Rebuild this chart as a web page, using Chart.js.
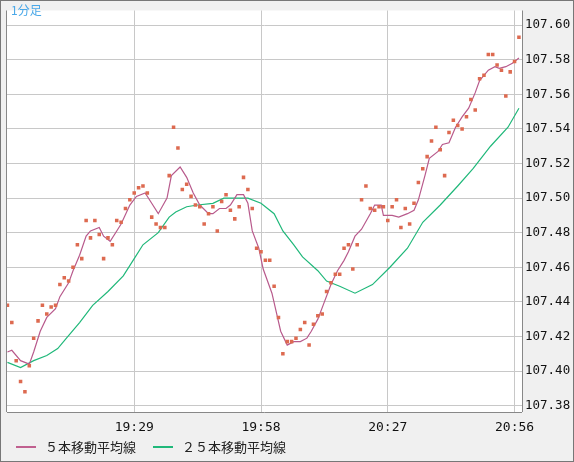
<!DOCTYPE html>
<html><head><meta charset="utf-8">
<script src="https://cdn.jsdelivr.net/npm/chart.js@4/dist/chart.umd.min.js"></script>
<style>
body{margin:0;background:#f0f0f0;}
#wrap{position:relative;width:574px;height:462px;}
#c{position:absolute;left:0;top:0;}
.lbl{position:absolute;font-family:"Noto Sans CJK JP";font-size:13px;}
#tf{left:11px;top:1px;color:#4aa8e8;font-size:12px;}
.leg{top:437px;color:#222;}
.sw{position:absolute;top:446px;width:20px;height:2px;}
#frame{position:absolute;left:0;top:0;width:572px;height:460px;border:1px solid #777;pointer-events:none;}
</style></head>
<body>
<div id="wrap">
<canvas id="c" width="574" height="462"></canvas>
<div class="lbl" id="tf">1分足</div>
<div class="sw" style="left:16px;background:#c0608f"></div>
<div class="lbl leg" style="left:45px">５本移動平均線</div>
<div class="sw" style="left:153px;background:#20b87a"></div>
<div class="lbl leg" style="left:182px">２５本移動平均線</div>
<div id="frame"></div>
</div>
<script>
// minutes from 19:00, one close per minute
let closes = [107.438,107.428,107.406,107.394,107.388,107.403,107.419,107.429,107.438,107.433,
107.437,107.438,107.450,107.454,107.452,107.460,107.473,107.465,107.487,107.477,
107.487,107.479,107.465,107.477,107.473,107.487,107.486,107.494,107.499,107.503,
107.506,107.507,107.503,107.489,107.485,107.483,107.483,107.513,107.541,107.529,
107.505,107.508,107.501,107.496,107.495,107.485,107.491,107.495,107.481,107.498,
107.502,107.493,107.488,107.495,107.512,107.505,107.494,107.471,107.469,107.464,
107.464,107.449,107.431,107.410,107.417,107.417,107.419,107.424,107.428,107.415,
107.427,107.432,107.433,107.446,107.451,107.456,107.456,107.471,107.473,107.459,
107.473,107.499,107.507,107.494,107.493,107.495,107.495,107.487,107.495,107.499,
107.483,107.494,107.485,107.497,107.509,107.517,107.524,107.533,107.541,107.528,
107.513,107.538,107.545,107.542,107.540,107.547,107.557,107.551,107.569,107.571,
107.583,107.583,107.577,107.574,107.559,107.573,107.579,107.593];

let ma5Min = [0,1,3,5,6,7.5,9,11,12,14,15,16.5,18,19,21,22,23.5,25,26,28,29.5,31.5,33,34.5,36.5,37.5,39.5,41,42.5,44,46,47,48.5,50,51,52.5,54,55,56,57.5,58.5,60.5,61.5,62.5,64,65.5,67,68.5,69.5,71,72.5,74,75.5,77,78,79.5,81,83,84,85.5,86,88,89.5,91.5,93,94,95.5,96.5,98.5,99.5,101,102.5,104,105.5,107,108,110,111.5,112.5,114,115.5,117];
let ma5Val = [107.411,107.412,107.406,107.404,107.411,107.423,107.431,107.436,107.443,107.451,107.458,107.467,107.478,107.481,107.483,107.478,107.475,107.481,107.485,107.496,107.501,107.503,107.497,107.491,107.500,107.513,107.518,107.512,107.503,107.496,107.491,107.491,107.494,107.494,107.496,107.502,107.502,107.497,107.481,107.471,107.459,107.445,107.434,107.423,107.415,107.417,107.417,107.419,107.423,107.430,107.440,107.450,107.458,107.464,107.469,107.478,107.482,107.491,107.496,107.496,107.490,107.490,107.489,107.491,107.493,107.499,107.513,107.523,107.527,107.531,107.532,107.541,107.547,107.552,107.561,107.568,107.574,107.576,107.575,107.576,107.578,107.581];

let ma25Min = [0,3,6,9,11.5,13.5,16.5,19.5,23,26.5,29,31,34.5,37,38.5,41,43.5,47,49.5,55,58,61,63,65.5,67.5,71,73,76,79.5,83.5,87.5,91.5,95,99,103,106.5,110.5,114.5,117];
let ma25Val = [107.405,107.402,107.406,107.409,107.413,107.419,107.428,107.438,107.446,107.455,107.465,107.473,107.480,107.489,107.492,107.495,107.496,107.497,107.500,107.500,107.497,107.491,107.481,107.473,107.466,107.458,107.452,107.449,107.445,107.450,107.460,107.471,107.486,107.496,107.507,107.517,107.530,107.541,107.552];

let tickMin = [29,58,87,116];
let tickLabels = ['19:29','19:58','20:27','20:56'];

const bg = {
  id:'bg',
  beforeDraw(chart){
    const {ctx, chartArea:a} = chart;
    ctx.save();
    ctx.fillStyle='#f0f0f0'; ctx.fillRect(0,0,chart.width,chart.height);
    ctx.fillStyle='#fff'; ctx.fillRect(a.left,a.top,a.right-a.left,a.bottom-a.top);
    ctx.strokeStyle='#888'; ctx.lineWidth=1;
    ctx.beginPath(); ctx.moveTo(a.left-0.5,a.top); ctx.lineTo(a.left-0.5,a.bottom);
    ctx.moveTo(a.right+0.5,a.top); ctx.lineTo(a.right+0.5,a.bottom);
    ctx.moveTo(a.left,a.bottom+0.5); ctx.lineTo(a.right,a.bottom+0.5); ctx.stroke();
    ctx.restore();
  }
};

new Chart(document.getElementById('c'), {
  type:'scatter',
  data:{datasets:[
    {data: closes.map((v,i)=>({x:i,y:v})), pointStyle:'rect', radius:2.5, backgroundColor:'#dd6a50', borderWidth:0, showLine:false},
    {data: ma5Min.map((m,i)=>({x:m,y:ma5Val[i]})), showLine:true, borderColor:'#b85a8c', borderWidth:1.2, pointRadius:0},
    {data: ma25Min.map((m,i)=>({x:m,y:ma25Val[i]})), showLine:true, borderColor:'#20b87a', borderWidth:1.2, pointRadius:0}
  ]},
  options:{
    responsive:false, animation:false, events:[],
    layout:{padding:{left:7,top:0,right:0,bottom:0}},
    plugins:{legend:{display:false},tooltip:{enabled:false}},
    scales:{
      x:{type:'linear',min:-0.1,max:117.7,
        afterFit(s){s.height=50;},
        afterBuildTicks(s){s.ticks=tickMin.map(v=>({value:v}));},
        grid:{color:'#c8c8c8',drawTicks:false},border:{display:false},
        ticks:{padding:8,color:'#111',font:{family:'DejaVu Sans Mono',size:13},maxRotation:0,
          callback:(v)=>tickLabels[tickMin.indexOf(v)]}},
      y:{position:'right',min:107.3763,max:107.6085,
        afterFit(s){s.width=52;},
        afterBuildTicks(s){let t=[];for(let k=0;k<=11;k++)t.push({value:107.38+k*0.02});s.ticks=t;},
        grid:{color:'#c8c8c8',drawTicks:false},border:{display:false},
        ticks:{padding:3,color:'#111',font:{family:'DejaVu Sans Mono',size:12.5},callback:(v)=>v.toFixed(2)}}
    }
  },
  plugins:[bg]
});
</script>
</body></html>
